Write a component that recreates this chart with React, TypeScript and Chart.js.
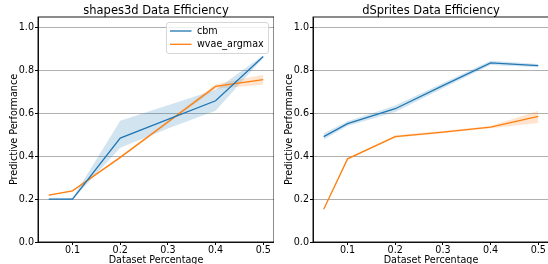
import React, { useEffect, useRef } from "react";
import { Chart, registerables } from "chart.js";

Chart.register(...registerables);

const xValues = [0.05, 0.1, 0.2, 0.3, 0.4, 0.5];
const xTicks = [0.1, 0.2, 0.3, 0.4, 0.5];
const yTicks = [0, 0.2, 0.4, 0.6, 0.8, 1.0];
const seriesNames = ["cbm", "wvae_argmax"];

// shapes3d
const shapesCbm = [0.2, 0.2, 0.485, 0.572, 0.659, 0.866];
const shapesCbmLow = [0.198, 0.197, 0.44, 0.53, 0.612, 0.86];
const shapesCbmHigh = [0.202, 0.205, 0.566, 0.638, 0.71, 0.872];
const shapesWvae = [0.219, 0.239, 0.395, 0.56, 0.726, 0.758];
const shapesWvaeLow = [0.216, 0.236, 0.39, 0.553, 0.715, 0.734];
const shapesWvaeHigh = [0.222, 0.242, 0.4, 0.567, 0.736, 0.781];

// dSprites
const dspCbm = [0.492, 0.552, 0.622, 0.73, 0.836, 0.823];
const dspCbmLow = [0.478, 0.541, 0.607, 0.718, 0.826, 0.815];
const dspCbmHigh = [0.506, 0.563, 0.637, 0.742, 0.846, 0.831];
const dspWvae = [0.153, 0.388, 0.492, 0.513, 0.536, 0.586];
const dspWvaeLow = [0.151, 0.385, 0.486, 0.508, 0.531, 0.555];
const dspWvaeHigh = [0.155, 0.391, 0.498, 0.518, 0.541, 0.612];

const BLUE = "#1f77b4";
const ORANGE = "#ff7f0e";
const BLUE_BAND = "rgba(31,119,180,0.2)";
const ORANGE_BAND = "rgba(255,127,14,0.2)";
const FONT = "'DejaVu Sans', sans-serif";
const SMALL = 9.6;

const pts = (ys: number[]) => xValues.map((x, i) => ({ x, y: ys[i] }));

const framePlugin = {
  id: "frame",
  afterDatasetsDraw(chart: any) {
    const { ctx, chartArea: a } = chart;
    ctx.save();
    ctx.strokeStyle = "#000";
    ctx.lineWidth = 0.9;
    ctx.strokeRect(a.left, a.top, a.right - a.left, a.bottom - a.top);
    ctx.restore();
  },
};

const legendPlugin = {
  id: "mplLegend",
  afterDraw(chart: any, _args: any, opts: any) {
    if (!opts || !opts.show) return;
    const { ctx, chartArea: a } = chart;
    const w = 102;
    const h = 31;
    const x0 = a.right - 5.5 - w;
    const y0 = a.top + 5.5;
    ctx.save();
    ctx.fillStyle = "rgba(255,255,255,0.8)";
    ctx.strokeStyle = "#d6d6d6";
    ctx.lineWidth = 1;
    ctx.beginPath();
    (ctx as any).roundRect(x0, y0, w, h, 2.5);
    ctx.fill();
    ctx.stroke();
    const items = [
      { label: seriesNames[0], color: BLUE },
      { label: seriesNames[1], color: ORANGE },
    ];
    ctx.font = `${SMALL}px ${FONT}`;
    ctx.textBaseline = "middle";
    items.forEach((it, i) => {
      const yy = y0 + 8.5 + i * 13.3;
      ctx.strokeStyle = it.color;
      ctx.lineWidth = 1.3;
      ctx.beginPath();
      ctx.moveTo(x0 + 3.5, yy);
      ctx.lineTo(x0 + 25, yy);
      ctx.stroke();
      ctx.fillStyle = "#000";
      ctx.fillText(it.label, x0 + 30.5, yy + 0.5);
    });
    ctx.restore();
  },
};

function makeConfig(
  title: string,
  cbm: number[],
  cbmLow: number[],
  cbmHigh: number[],
  wv: number[],
  wvLow: number[],
  wvHigh: number[],
  showLegend: boolean
): any {
  const lineDs = (label: string, ys: number[], color: string) => ({
    label,
    data: pts(ys),
    borderColor: color,
    borderWidth: 1.3,
    pointRadius: 0,
    fill: false,
    tension: 0,
  });
  const bandDs = (ys: number[], color: string, fillTarget: any) => ({
    label: "band",
    data: pts(ys),
    borderWidth: 0,
    borderColor: "rgba(0,0,0,0)",
    backgroundColor: color,
    pointRadius: 0,
    fill: fillTarget,
    tension: 0,
  });
  return {
    type: "line",
    data: {
      datasets: [
        lineDs(seriesNames[0], cbm, BLUE),
        lineDs(seriesNames[1], wv, ORANGE),
        bandDs(cbmLow, BLUE_BAND, false),
        bandDs(cbmHigh, BLUE_BAND, 2),
        bandDs(wvLow, ORANGE_BAND, false),
        bandDs(wvHigh, ORANGE_BAND, 4),
      ],
    },
    options: {
      animation: false,
      responsive: false,
      events: [],
      layout: { padding: { left: 0, right: 0, top: 0, bottom: 0 } },
      plugins: {
        legend: { display: false },
        tooltip: { enabled: false },
        title: {
          display: true,
          text: title,
          fullSize: false,
          color: "#000",
          font: { family: FONT, size: 11.5, weight: "normal", lineHeight: 1 },
          padding: { top: 5.5, bottom: 0 },
        },
        mplLegend: { show: showLegend },
      },
      scales: {
        x: {
          type: "linear",
          min: 0.0275,
          max: 0.5225,
          afterBuildTicks: (s: any) => {
            s.ticks = xTicks.map((v) => ({ value: v }));
          },
          afterFit: (s: any) => {
            s.height = 22;
          },
          ticks: {
            color: "#000",
            font: { family: FONT, size: SMALL },
            padding: 0,
            maxRotation: 0,
            autoSkip: false,
            callback: (v: any) => Number(v).toFixed(1),
          },
          grid: {
            drawOnChartArea: false,
            drawTicks: true,
            tickLength: 3,
            tickColor: "#000",
          },
          border: { display: true, color: "#000", width: 0.9 },
          title: {
            display: true,
            text: "Dataset Percentage",
            color: "#000",
            font: { family: FONT, size: SMALL },
            padding: { top: 0, bottom: -2 },
          },
        },
        y: {
          type: "linear",
          min: 0,
          max: 1.05,
          afterBuildTicks: (s: any) => {
            s.ticks = yTicks.map((v) => ({ value: v }));
          },
          afterFit: (s: any) => {
            s.width = 38;
          },
          ticks: {
            color: "#000",
            font: { family: FONT, size: SMALL },
            padding: 1,
            callback: (v: any) => Number(v).toFixed(1),
          },
          grid: {
            drawOnChartArea: true,
            color: (c: any) => (c.tick && c.tick.value === 0 ? "rgba(0,0,0,0)" : "#b0b0b0"),
            lineWidth: 1,
            drawTicks: true,
            tickLength: 3,
            tickColor: "#000",
          },
          border: { display: true, color: "#000", width: 0.9 },
          title: {
            display: true,
            text: "Predictive Performance",
            color: "#000",
            font: { family: FONT, size: SMALL },
            padding: { top: 8.5, bottom: 0 },
          },
        },
      },
    },
    plugins: [framePlugin, legendPlugin],
  };
}

function ChartCanvas(props: { left: number; width: number; config: () => any }) {
  const ref = useRef<HTMLCanvasElement | null>(null);
  useEffect(() => {
    if (!ref.current) return;
    const chart = new Chart(ref.current, props.config());
    return () => chart.destroy();
  }, []);
  return (
    <canvas
      ref={ref}
      width={props.width}
      height={264}
      style={{ position: "absolute", left: props.left, top: 0, width: props.width, height: 264 }}
    />
  );
}

export default function App() {
  return (
    <div
      style={{
        position: "fixed",
        left: 0,
        top: 0,
        width: 548,
        height: 264,
        overflow: "hidden",
        background: "#fff",
      }}
    >
      <ChartCanvas
        left={0}
        width={274}
        config={() =>
          makeConfig(
            "shapes3d Data Efficiency",
            shapesCbm,
            shapesCbmLow,
            shapesCbmHigh,
            shapesWvae,
            shapesWvaeLow,
            shapesWvaeHigh,
            true
          )
        }
      />
      <ChartCanvas
        left={275}
        width={274}
        config={() =>
          makeConfig(
            "dSprites Data Efficiency",
            dspCbm,
            dspCbmLow,
            dspCbmHigh,
            dspWvae,
            dspWvaeLow,
            dspWvaeHigh,
            false
          )
        }
      />
    </div>
  );
}
